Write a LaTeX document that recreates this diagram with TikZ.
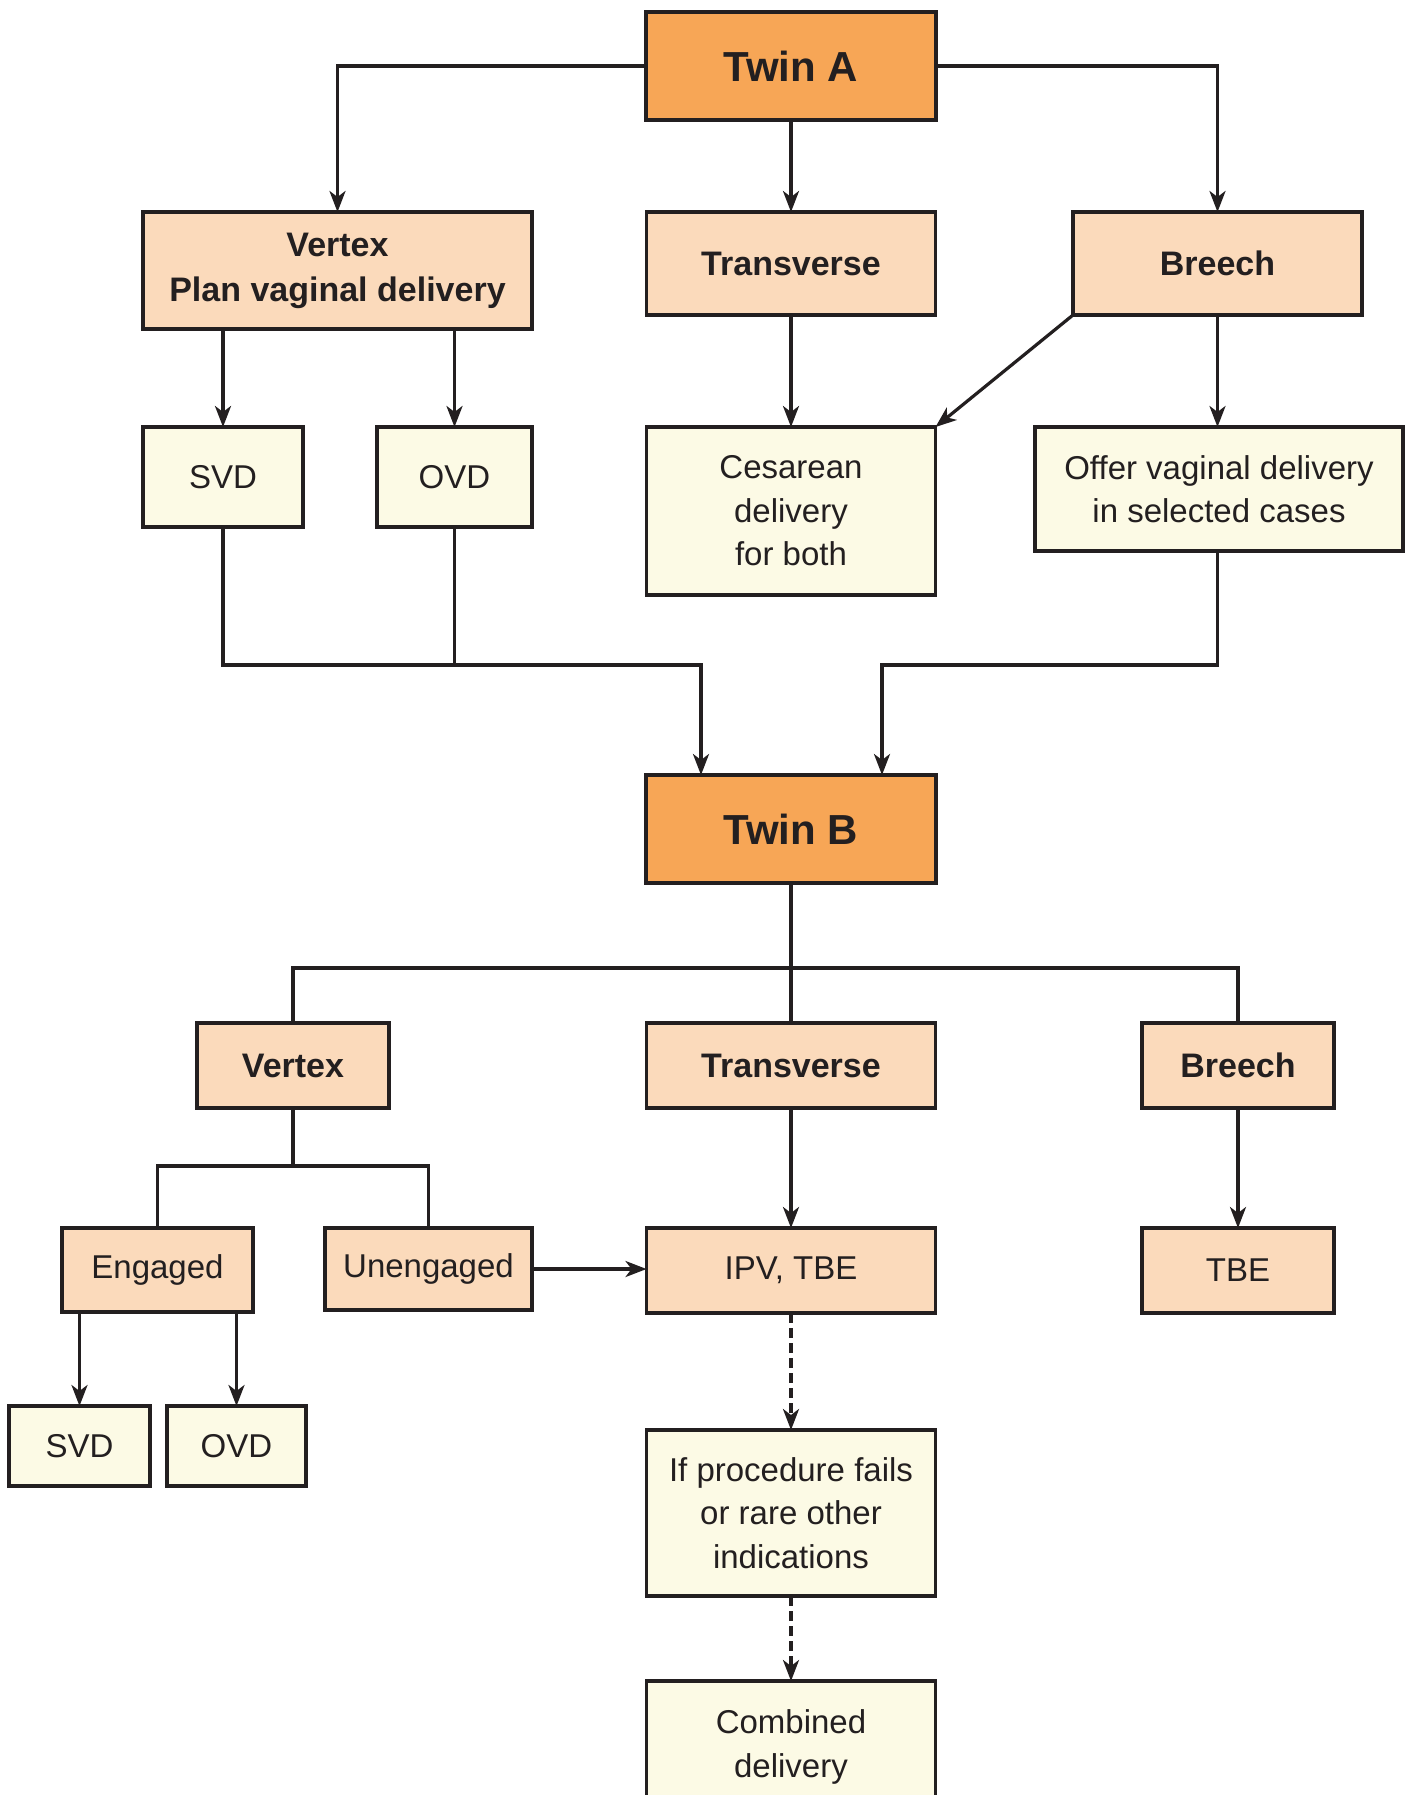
\documentclass[tikz,border=0pt]{standalone}
\usepackage{fontspec}
\setmainfont{Liberation Sans}
\usetikzlibrary{arrows.meta,calc}
\definecolor{twinorange}{RGB}{247,166,86}
\definecolor{peach}{RGB}{251,218,187}
\definecolor{cream}{RGB}{252,250,229}
\definecolor{ink}{RGB}{35,31,32}
\begin{document}
\begin{tikzpicture}[x=0.5pt,y=-0.5pt,
  sz/.style 2 args={minimum width=#1*0.5pt, minimum height=#2*0.5pt},
  basebox/.style={draw=ink, line width=1.9pt, inner sep=0pt, outer sep=0pt,
    align=center, text=ink},
  twin/.style={basebox, fill=twinorange, font=\bfseries\fontsize{21}{25}\selectfont},
  peachbold/.style={basebox, fill=peach, font=\bfseries\fontsize{17}{22.4}\selectfont},
  peachplain/.style={basebox, fill=peach, font=\fontsize{16.5}{21.8}\selectfont},
  creambox/.style={basebox, fill=cream, font=\fontsize{16.5}{21.8}\selectfont},
  link/.style={draw=ink, line width=1.6pt},
  arr/.style={link, -{Stealth[length=10.5pt,width=8pt,inset=3pt]}},
  darr/.style={arr, dash pattern=on 5pt off 2.5pt}]
\useasboundingbox (0,0) rectangle (1413,1795);
\fill[white] (0,0) rectangle (1413,1795);

% ---- Twin A level
\node[twin, sz={290}{108}] (TwinA) at (791,66) {Twin A};
\node[peachbold, sz={389}{117}] (VertA) at (337.5,270.5) {Vertex\\Plan vaginal delivery};
\node[peachbold, sz={289}{103}] (TransA) at (791,263.5) {Transverse};
\node[peachbold, sz={289}{103}] (BreechA) at (1217.5,263.5) {Breech};

\node[creambox, sz={160}{100}] (SVDa) at (223,477) {SVD};
\node[creambox, sz={155}{100}] (OVDa) at (454.5,477) {OVD};
\node[creambox, sz={289}{168}] (Ces) at (791,511) {Cesarean\\delivery\\for both};
\node[creambox, sz={368}{124}] (Offer) at (1219,489) {Offer vaginal delivery\\in selected cases};

% ---- Twin B level
\node[twin, sz={290}{108}] (TwinB) at (791,829) {Twin B};
\node[peachbold, sz={192}{85}] (VertB) at (293,1065.5) {Vertex};
\node[peachbold, sz={289}{85}] (TransB) at (791,1065.5) {Transverse};
\node[peachbold, sz={192}{85}] (BreechB) at (1238,1065.5) {Breech};

\node[peachplain, sz={191}{84}] (Eng) at (157.5,1270) {Engaged};
\node[peachplain, sz={207}{82}] (Uneng) at (428.5,1269) {Unengaged};
\node[peachplain, sz={289}{85}] (IPV) at (791,1270.5) {IPV, TBE};
\node[peachplain, sz={192}{85}] (TBE) at (1238,1270.5) {TBE};

\node[creambox, sz={141}{80}] (SVDb) at (79.5,1446) {SVD};
\node[creambox, sz={139}{80}] (OVDb) at (236.5,1446) {OVD};
\node[creambox, sz={289}{166}] (Fail) at (791,1513) {If procedure fails\\or rare other\\indications};
\node[creambox, sz={289}{132}] (Comb) at (791,1747) {Combined\\delivery};

% ---- connectors from Twin A
\draw[arr] (TwinA.west) -| (VertA.north);
\draw[arr] (TwinA.east) -| (BreechA.north);
\draw[arr] (TwinA.south) -- (TransA.north);

\draw[arr] (SVDa.north |- VertA.south) -- (SVDa.north);
\draw[arr] (OVDa.north |- VertA.south) -- (OVDa.north);
\draw[arr] (TransA.south) -- (Ces.north);
\draw[arr] (BreechA.south west) -- (Ces.north east);
\draw[arr] (BreechA.south) -- (BreechA.south |- Offer.north);

% ---- merging into Twin B
\coordinate (jl) at (701,665);
\coordinate (jr) at (882,665);
\draw[link] (OVDa.south) -- (OVDa.south |- jl);
\draw[arr] (SVDa.south) |- (jl) -- (jl |- TwinB.north);
\draw[arr] (Offer.south -| BreechA.south) |- (jr) -- (jr |- TwinB.north);

% ---- branches from Twin B
\coordinate (tb) at (791,968);
\draw[link] (TwinB.south) -- (TransB.north);
\draw[link] (VertB.north) |- (tb) -| (BreechB.north);

\coordinate (vb) at (293,1166);
\draw[link] (VertB.south) -- (vb);
\draw[link] (Eng.north) |- (vb) -| (Uneng.north);

\draw[arr] (SVDb.north |- Eng.south) -- (SVDb.north);
\draw[arr] (OVDb.north |- Eng.south) -- (OVDb.north);
\draw[arr] (Uneng.east) -- (Uneng.east -| IPV.west);
\draw[arr] (TransB.south) -- (IPV.north);
\draw[arr] (BreechB.south) -- (TBE.north);
\draw[darr] (IPV.south) -- (Fail.north);
\draw[darr] (Fail.south) -- (Comb.north);
\end{tikzpicture}
\end{document}
